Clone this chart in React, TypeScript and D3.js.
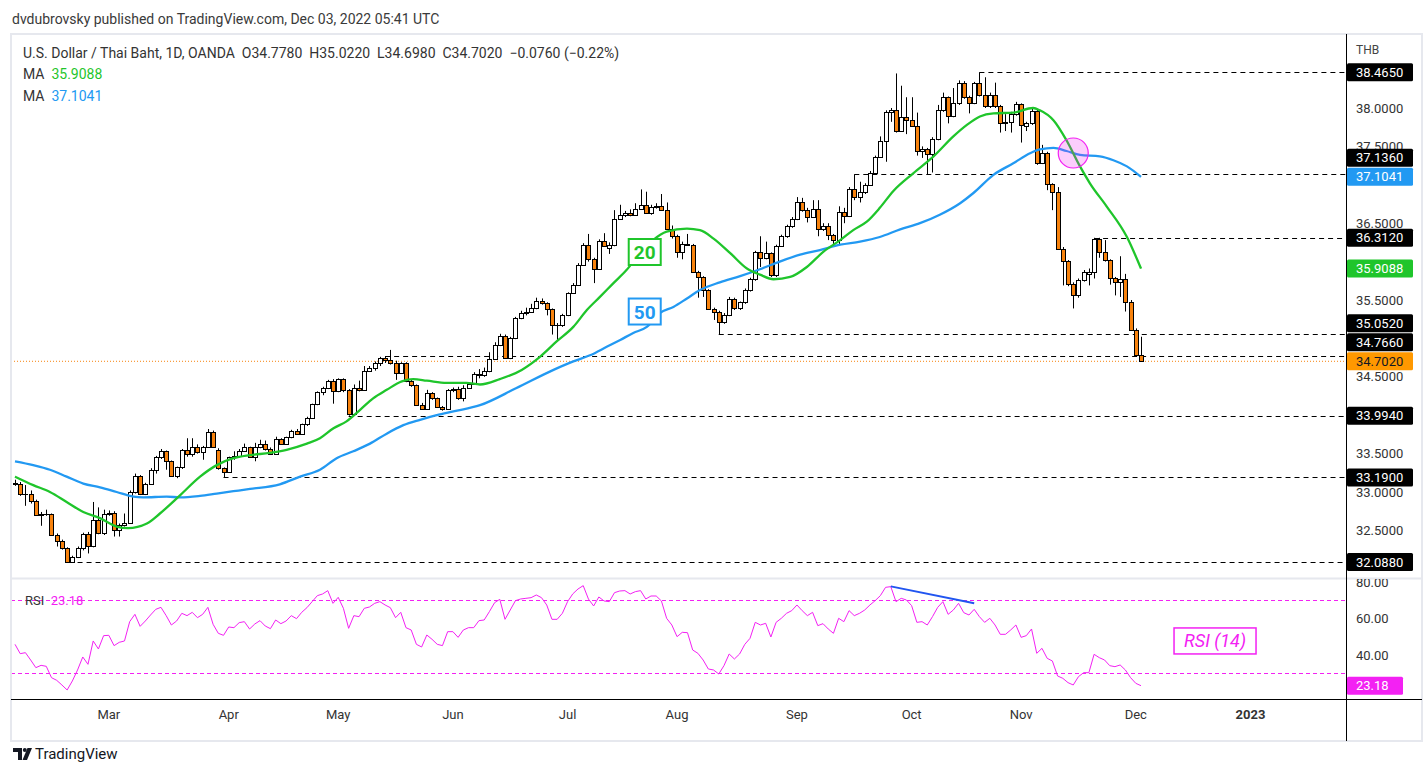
import React from 'react';
import * as d3 from 'd3';

// [open, high, low, close] for each daily bar
type Bar = [number, number, number, number];

const febBars: Bar[] = [
  [33.12, 33.16, 33.08, 33.11], [33.11, 33.13, 32.95, 32.97], [32.97, 33.09, 32.82, 32.97],
  [32.97, 33.02, 32.85, 32.88], [32.88, 32.9, 32.69, 32.7], [32.7, 32.74, 32.56, 32.72],
  [32.72, 32.77, 32.69, 32.71], [32.71, 32.72, 32.43, 32.44], [32.44, 32.46, 32.29, 32.36],
  [32.36, 32.38, 32.25, 32.27], [32.27, 32.28, 32.088, 32.09], [32.09, 32.17, 32.088, 32.16],
  [32.16, 32.29, 32.14, 32.27], [32.27, 32.47, 32.24, 32.45], [32.45, 32.48, 32.2, 32.3],
  [32.3, 32.87, 32.28, 32.64], [32.64, 32.8, 32.45, 32.46], [32.46, 32.77, 32.44, 32.72],
];
const marBars: Bar[] = [
  [32.72, 32.76, 32.69, 32.73], [32.73, 32.75, 32.42, 32.51], [32.51, 32.59, 32.42, 32.57],
  [32.57, 32.72, 32.55, 32.6], [32.6, 33.02, 32.59, 33.0], [33.0, 33.24, 32.98, 33.21],
  [33.21, 33.22, 32.96, 32.98], [32.98, 33.12, 32.96, 33.11], [33.11, 33.31, 33.1, 33.29],
  [33.29, 33.47, 33.24, 33.45], [33.45, 33.56, 33.43, 33.53], [33.53, 33.54, 33.29, 33.4],
  [33.4, 33.41, 33.2, 33.21], [33.21, 33.33, 33.18, 33.32], [33.32, 33.56, 33.3, 33.55],
  [33.55, 33.7, 33.46, 33.5], [33.5, 33.7, 33.46, 33.59], [33.59, 33.62, 33.5, 33.52],
  [33.52, 33.6, 33.42, 33.59], [33.59, 33.82, 33.58, 33.78], [33.78, 33.8, 33.59, 33.59],
  [33.55, 33.57, 33.29, 33.31], [33.31, 33.32, 33.19, 33.26],
];
const aprBars: Bar[] = [
  [33.26, 33.46, 33.25, 33.46], [33.46, 33.53, 33.42, 33.47], [33.47, 33.56, 33.45, 33.54],
  [33.54, 33.63, 33.53, 33.58], [33.58, 33.59, 33.45, 33.45], [33.45, 33.64, 33.4, 33.58],
  [33.58, 33.68, 33.57, 33.63], [33.63, 33.67, 33.54, 33.56], [33.56, 33.58, 33.49, 33.5],
  [33.5, 33.72, 33.49, 33.69], [33.69, 33.7, 33.62, 33.63], [33.63, 33.72, 33.62, 33.71],
  [33.71, 33.81, 33.7, 33.8], [33.8, 33.82, 33.75, 33.76], [33.76, 33.89, 33.75, 33.88],
  [33.88, 33.98, 33.86, 33.97], [33.97, 34.15, 33.96, 34.14], [34.14, 34.31, 34.13, 34.3],
  [34.3, 34.37, 34.26, 34.35], [34.35, 34.46, 34.34, 34.44], [34.44, 34.47, 34.15, 34.31],
];
const mayBars: Bar[] = [
  [34.31, 34.48, 34.3, 34.47], [34.47, 34.48, 34.3, 34.33], [34.33, 34.34, 33.994, 34.01],
  [34.01, 34.4, 34.0, 34.35], [34.35, 34.45, 34.31, 34.33], [34.33, 34.64, 34.32, 34.58],
  [34.58, 34.64, 34.57, 34.62], [34.62, 34.7, 34.58, 34.68], [34.68, 34.76, 34.64, 34.75],
  [34.75, 34.77, 34.68, 34.72], [34.72, 34.85, 34.66, 34.68], [34.68, 34.71, 34.46, 34.55],
  [34.55, 34.69, 34.54, 34.68], [34.68, 34.69, 34.43, 34.45], [34.45, 34.46, 34.37, 34.39],
  [34.39, 34.4, 34.12, 34.13], [34.13, 34.16, 34.07, 34.08], [34.08, 34.33, 34.07, 34.29],
  [34.29, 34.3, 34.2, 34.22], [34.22, 34.23, 34.1, 34.11], [34.11, 34.12, 34.06, 34.08],
  [34.08, 34.34, 34.07, 34.33],
];
const junBars: Bar[] = [
  [34.33, 34.36, 34.3, 34.34], [34.34, 34.37, 34.2, 34.23], [34.23, 34.39, 34.18, 34.36],
  [34.36, 34.43, 34.35, 34.41], [34.41, 34.56, 34.4, 34.54], [34.54, 34.6, 34.48, 34.52],
  [34.52, 34.62, 34.5, 34.58], [34.58, 34.82, 34.56, 34.73], [34.73, 34.95, 34.72, 34.91],
  [34.91, 35.06, 34.9, 35.03], [35.03, 35.05, 34.74, 34.75], [34.75, 35.02, 34.73, 35.0],
  [35.0, 35.28, 34.99, 35.26], [35.26, 35.36, 35.25, 35.33], [35.33, 35.4, 35.3, 35.35],
  [35.35, 35.45, 35.34, 35.4], [35.4, 35.53, 35.38, 35.49], [35.49, 35.52, 35.44, 35.46],
  [35.46, 35.47, 35.3, 35.38], [35.38, 35.39, 35.05, 35.17], [35.17, 35.2, 34.97, 35.17],
  [35.17, 35.32, 35.15, 35.3],
];
const julBars: Bar[] = [
  [35.3, 35.6, 35.29, 35.59], [35.59, 35.72, 35.58, 35.7], [35.7, 35.98, 35.69, 35.96],
  [35.96, 36.24, 35.95, 36.22], [36.22, 36.36, 36.0, 36.03], [36.03, 36.05, 35.72, 35.91],
  [35.91, 36.29, 35.9, 36.27], [36.27, 36.37, 36.19, 36.2], [36.18, 36.25, 36.1, 36.21],
  [36.21, 36.67, 36.2, 36.56], [36.56, 36.74, 36.55, 36.61], [36.61, 36.66, 36.58, 36.63],
  [36.63, 36.68, 36.59, 36.61], [36.61, 36.76, 36.6, 36.69], [36.69, 36.94, 36.68, 36.74],
  [36.74, 36.91, 36.62, 36.63], [36.63, 36.74, 36.61, 36.71], [36.71, 36.76, 36.69, 36.72],
  [36.72, 36.88, 36.66, 36.67], [36.67, 36.77, 36.41, 36.42], [36.42, 36.47, 36.3, 36.33],
];
const augBars: Bar[] = [
  [36.33, 36.35, 36.05, 36.12], [36.12, 36.26, 36.03, 36.23], [36.23, 36.36, 36.21, 36.22],
  [36.22, 36.23, 35.86, 35.87], [35.87, 35.88, 35.53, 35.8], [35.8, 35.81, 35.54, 35.63],
  [35.63, 35.64, 35.37, 35.38], [35.38, 35.4, 35.24, 35.35], [35.35, 35.36, 35.052, 35.21],
  [35.21, 35.33, 35.19, 35.31], [35.31, 35.54, 35.29, 35.51], [35.51, 35.53, 35.37, 35.39],
  [35.39, 35.48, 35.37, 35.47], [35.47, 35.65, 35.45, 35.63], [35.63, 35.79, 35.61, 35.77],
  [35.77, 36.14, 35.75, 36.12], [36.12, 36.33, 35.93, 36.05], [36.05, 36.26, 36.03, 36.11],
  [36.11, 36.12, 35.8, 35.82], [35.82, 36.22, 35.8, 36.2], [36.2, 36.35, 36.19, 36.33],
  [36.33, 36.48, 36.31, 36.46], [36.46, 36.58, 36.44, 36.56],
];
const sepBars: Bar[] = [
  [36.56, 36.84, 36.54, 36.77], [36.77, 36.83, 36.65, 36.67], [36.67, 36.7, 36.51, 36.58],
  [36.58, 36.8, 36.57, 36.69], [36.69, 36.8, 36.33, 36.42], [36.42, 36.5, 36.4, 36.47],
  [36.47, 36.5, 36.28, 36.34], [36.34, 36.36, 36.2, 36.28], [36.28, 36.72, 36.22, 36.65],
  [36.65, 36.7, 36.5, 36.59], [36.59, 36.97, 36.58, 36.94], [36.94, 37.136, 36.8, 36.84],
  [36.84, 37.04, 36.77, 36.91], [36.91, 37.02, 36.88, 37.0], [37.0, 37.18, 36.99, 37.16],
  [37.16, 37.38, 37.15, 37.36], [37.36, 37.63, 37.35, 37.57], [37.57, 37.97, 37.3, 37.95],
  [37.95, 38.0, 37.82, 37.97], [37.97, 38.45, 37.68, 37.7], [37.7, 38.29, 37.69, 37.88],
  [37.88, 38.14, 37.66, 37.85],
];
const octBars: Bar[] = [
  [37.85, 38.14, 37.76, 37.77], [37.77, 37.94, 37.38, 37.44], [37.44, 37.5, 37.35, 37.46],
  [37.46, 37.48, 37.13, 37.4], [37.4, 37.62, 37.16, 37.6], [37.6, 38.04, 37.58, 37.97],
  [37.97, 38.2, 37.95, 38.14], [38.14, 38.15, 37.8, 37.9], [37.9, 38.26, 37.88, 38.06],
  [38.06, 38.36, 38.04, 38.33], [38.33, 38.35, 38.12, 38.14], [38.14, 38.16, 37.93, 38.07],
  [38.07, 38.34, 38.05, 38.32], [38.32, 38.465, 38.15, 38.17], [38.17, 38.4, 38.0, 38.03],
  [38.03, 38.2, 38.0, 38.17], [38.17, 38.33, 38.0, 38.02], [38.02, 38.04, 37.68, 37.8],
  [37.8, 37.92, 37.7, 37.82], [37.82, 37.95, 37.68, 37.92], [37.92, 38.08, 37.9, 38.05],
];
const novBars: Bar[] = [
  [38.05, 38.06, 37.55, 37.78], [37.76, 37.82, 37.7, 37.8], [37.8, 38.0, 37.78, 37.96],
  [37.96, 37.99, 37.26, 37.29], [37.29, 37.52, 37.27, 37.41], [37.41, 37.43, 36.93, 37.01],
  [37.01, 37.02, 36.67, 36.9], [36.9, 36.97, 36.16, 36.17], [36.17, 36.19, 35.69, 36.01],
  [36.01, 36.02, 35.68, 35.71], [35.71, 35.73, 35.39, 35.56], [35.56, 35.78, 35.53, 35.76],
  [35.76, 35.89, 35.74, 35.87], [35.84, 35.91, 35.69, 35.87], [35.87, 36.31, 35.78, 36.29],
  [36.29, 36.31, 36.05, 36.13], [36.13, 36.28, 36.0, 36.02], [36.02, 36.03, 35.7, 35.78],
  [35.78, 35.8, 35.56, 35.73], [35.73, 36.07, 35.54, 35.77], [35.77, 35.84, 35.35, 35.48],
  [35.48, 35.5, 35.1, 35.11],
];
const decBars: Bar[] = [
  [35.11, 35.13, 34.77, 34.78], [34.778, 35.022, 34.698, 34.702],
];

// moving averages read at sample bars: [bar index, value]
const ma20Points: [number, number][] = [
  [0, 33.2], [3.5, 33.09], [6.7, 33.0], [9.9, 32.87], [13.1, 32.74], [16.3, 32.66], [19.5, 32.55],
  [21.7, 32.53], [25.3, 32.59], [27.8, 32.72], [31.7, 32.96], [35.5, 33.2], [38.7, 33.35],
  [41.9, 33.44], [45.1, 33.48], [48.9, 33.51], [52.1, 33.55], [56, 33.63], [58.5, 33.7],
  [61.1, 33.83], [63.6, 33.92], [66.2, 34.07], [68.7, 34.22], [71.3, 34.33], [74.2, 34.44],
  [76.4, 34.47], [79, 34.45], [82.8, 34.42], [86.6, 34.42], [89.2, 34.4], [93, 34.47],
  [97.2, 34.59], [100.7, 34.76], [103.9, 34.96], [107.1, 35.15], [109.7, 35.37], [112.2, 35.54],
  [114.8, 35.72], [117.3, 35.89], [119.9, 36.11], [122.4, 36.28], [125, 36.39], [128.9, 36.43],
  [131.4, 36.41], [134, 36.3], [137.2, 36.11], [140.4, 35.91], [142.9, 35.83], [145.5, 35.77],
  [148.7, 35.8], [151.9, 35.93], [155.1, 36.13], [158.3, 36.28], [160.8, 36.41], [163.4, 36.52],
  [165.9, 36.7], [168.5, 36.92], [172.3, 37.15], [176.2, 37.37], [180, 37.63], [182.6, 37.78],
  [185.1, 37.89], [187.7, 37.93], [191.5, 37.94], [195.3, 38.0], [196.6, 37.97], [199.2, 37.84],
  [201.7, 37.58], [204.3, 37.24], [206.2, 37.02], [209.4, 36.72], [213.3, 36.32], [216, 35.9088],
];
const ma50Points: [number, number][] = [
  [0, 33.4], [3.5, 33.35], [6.7, 33.29], [9.9, 33.2], [13.1, 33.11], [16.3, 33.06], [19.5, 33.0],
  [22.7, 32.94], [24.6, 32.93], [29.1, 32.94], [31.7, 32.93], [35.5, 32.95], [38.7, 32.98],
  [41.9, 33.01], [45.1, 33.04], [50.8, 33.1], [54.7, 33.2], [58.5, 33.29], [61.7, 33.44],
  [64.9, 33.53], [68.1, 33.63], [71.3, 33.76], [74.5, 33.87], [77.7, 33.94], [80.9, 34.0],
  [84.1, 34.05], [89.2, 34.13], [96.1, 34.35], [103.3, 34.59], [107.1, 34.7], [110.3, 34.78],
  [113.5, 34.89], [116.1, 34.98], [118.6, 35.07], [121.2, 35.15], [123.7, 35.33], [126.3, 35.41],
  [128.9, 35.52], [131.4, 35.63], [135.2, 35.73], [139.1, 35.81], [142.9, 35.9], [146.7, 36.0],
  [150.6, 36.09], [154.4, 36.15], [158.3, 36.22], [162.1, 36.26], [165.9, 36.32], [169.8, 36.42],
  [173.6, 36.5], [177.4, 36.61], [181.3, 36.76], [183.8, 36.89], [187.7, 37.13], [191.5, 37.28],
  [194.7, 37.41], [196.6, 37.46], [199.2, 37.48], [201.7, 37.44], [204.3, 37.39], [208.1, 37.37],
  [210.7, 37.32], [213.3, 37.24], [216, 37.1041],
];

// RSI(14), one value per bar
const rsiFebJul = [
  45.85, 40.73, 41.28, 37.27, 33.06, 34.34, 33.8, 27.59, 26.12, 23.57,
  20.83, 25.76, 31.79, 38.91, 34.89, 47.68, 43.29, 50.6, 50.78, 45.12,
  46.95, 47.68, 58.27, 62.29, 55.71, 58.63, 61.92, 65.03, 66.12, 61.56,
  56.44, 58.63, 62.84, 61.56, 63.38, 60.46, 62.29, 66.12, 56.81, 51.88,
  50.78, 55.35, 54.98, 57.72, 58.27, 54.25, 56.99, 58.82, 55.89, 54.43,
  59.18, 57.17, 58.63, 61.56, 59.91, 63.38, 65.94, 69.23, 72.52, 73.43,
  75.26, 68.32, 71.6, 65.58, 54.62, 61.56, 61.01, 65.58, 66.31, 68.32,
  69.23, 67.4, 65.94, 60.46, 63.38, 54.98, 53.7, 45.85, 44.39, 50.96,
  48.59, 45.85, 45.12, 52.79, 52.79, 49.68, 53.7, 54.98, 54.98, 58.82,
  59.18, 63.75, 68.68, 70.51, 59.55, 64.66, 69.78, 70.69, 71.05, 71.42,
  72.88, 71.42, 67.4, 59.55, 59.55, 62.84, 69.23, 73.5, 76.17,
];
const rsiJulDec = [
  78.0, 70.69, 66.85, 71.79, 69.6, 69.23, 74.16, 75.07, 75.26, 73.43,
  74.71, 75.26, 70.69, 72.33, 72.33, 69.6, 60.1, 56.44, 50.05, 52.42,
  52.24, 42.74, 40.92, 37.27, 32.33, 31.79, 29.59, 34.16, 40.55, 37.81,
  40.55, 45.85, 49.14, 57.9, 56.44, 57.36, 49.87, 57.9, 60.1, 62.84,
  64.3, 67.4, 64.3, 61.56, 63.38, 56.08, 57.17, 54.25, 51.88, 60.1,
  58.27, 64.3, 61.56, 62.84, 64.66, 67.4, 69.78, 72.52, 77.08, 77.45,
  69.23, 71.05, 70.14, 67.04, 57.9, 58.27, 56.44, 61.01, 66.12, 69.23,
  62.29, 64.66, 68.32, 63.2, 61.92, 65.03, 61.01, 57.9, 60.1, 56.44,
  51.33, 51.33, 53.7, 56.44, 49.68, 50.6, 54.25, 40.92, 43.66, 38.18,
  36.72, 28.5, 27.22, 24.85, 23.57, 28.13, 30.32, 30.32, 40.37, 38.54,
  37.27, 34.16, 33.61, 34.53, 31.79, 27.59, 24.48, 23.18,
];

const monthLabels = ['Mar', 'Apr', 'May', 'Jun', 'Jul', 'Aug', 'Sep', 'Oct', 'Nov', 'Dec', '2023'];
const monthStartBars = [18, 41, 62, 84, 106, 127, 150, 172, 193, 215, 237];

const priceTicks = [38, 37.5, 37, 36.5, 36, 35.5, 35, 34.5, 34, 33.5, 33, 32.5, 32];
const rsiTicks = [80, 60, 40, 20];
const rsiBands = [70, 30];

// horizontal levels drawn by the author
const levelPrices = [38.465, 37.136, 36.312, 35.052, 34.766, 33.994, 33.19, 32.088];
const levelStartBars = [185, 161, 207, 135, 71, 64, 40, 12];

const lastMa20 = 35.9088;
const lastMa50 = 37.1041;
const lastClose = 34.702;
const lastRsi = 23.18;
const rsiDivergence: [number, number][] = [[168, 77.6], [184, 68.4]];
const crossMark: [number, number] = [203, 37.414];
const ma20Tag: [number, number] = [120.8, 36.125];
const ma50Tag: [number, number] = [120.8, 35.35];
const rsiTag: [number, number] = [230.2, 47.7];

const FONT = "Roboto, 'DejaVu Sans', sans-serif";
const GREEN = '#1fc52b';
const BLUE = '#2299f2';
const ORANGE = '#f7820d';
const MAGENTA = '#f321f3';

export default function App() {
  const bars: Bar[] = [
    ...febBars, ...marBars, ...aprBars, ...mayBars, ...junBars, ...julBars,
    ...augBars, ...sepBars, ...octBars, ...novBars, ...decBars,
  ];
  const rsi = [...rsiFebJul, ...rsiJulDec];

  const frame = { left: 11, top: 34, right: 1422, bottom: 741 };
  const axisX = 1346;
  const paneSplit = 578;
  const paneBottom = 699;

  const x = d3.scaleLinear().domain([0, 237]).range([15, 15 + 237 * 5.213]);
  const y = d3.scaleLinear().domain([33, 38]).range([492, 108]);
  const ry = d3.scaleLinear().domain([40, 80]).range([655, 582]);

  const maLine = d3.line<[number, number]>()
    .x(d => x(d[0]))
    .y(d => y(d[1]))
    .curve(d3.curveMonotoneX);

  const rsiLine = d3.line<number>()
    .x((_, i) => x(i))
    .y(d => ry(d));

  // price labels on the right axis, pushed up when they collide
  const labels = [
    ...levelPrices.map(p => ({ value: p, fill: '#000', color: '#fff' })),
    { value: lastMa20, fill: GREEN, color: '#fff' },
    { value: lastMa50, fill: BLUE, color: '#fff' },
    { value: lastClose, fill: '#ff9800', color: '#131722' },
  ].map(l => ({ ...l, y: y(l.value) }))
    .sort((a, b) => a.y - b.y);
  for (let k = labels.length - 2; k >= 0; k--) {
    if (labels[k].y > labels[k + 1].y - 19) labels[k].y = labels[k + 1].y - 19;
  }
  // axis ticks that sit almost entirely under a label box are not shown
  const visiblePriceTicks = priceTicks.filter(t => labels.every(l => Math.abs(l.y - y(t)) > 10));
  const visibleRsiTicks = rsiTicks.filter(t => Math.abs(ry(t) - ry(lastRsi)) > 10);

  return (
    <svg width={1428} height={776} style={{ position: 'absolute', left: 0, top: 0, background: '#fff' }}
      fontFamily={FONT}>
      <defs>
        <clipPath id="pricePane">
          <rect x={frame.left + 1} y={frame.top} width={axisX - frame.left - 1} height={paneSplit - frame.top} />
        </clipPath>
        <clipPath id="rsiPane">
          <rect x={frame.left + 1} y={paneSplit + 1} width={axisX - frame.left - 1} height={paneBottom - paneSplit - 1} />
        </clipPath>
        <clipPath id="priceAxis">
          <rect x={axisX} y={frame.top} width={frame.right - axisX} height={paneSplit - frame.top} />
        </clipPath>
        <clipPath id="rsiAxis">
          <rect x={axisX} y={paneSplit + 1} width={frame.right - axisX} height={paneBottom - paneSplit - 1} />
        </clipPath>
      </defs>

      <text x={12} y={24} fontSize={14} fill="#3a3a3a">
        dvdubrovsky published on TradingView.com, Dec 03, 2022 05:41 UTC
      </text>

      <rect x={frame.left} y={frame.top} width={frame.right - frame.left} height={frame.bottom - frame.top}
        fill="#fff" stroke="#e6e8ee" strokeWidth={2} />

      {/* price pane */}
      <g clipPath="url(#pricePane)">
        <line x1={frame.left} x2={axisX} y1={y(lastClose)} y2={y(lastClose)}
          stroke={ORANGE} strokeWidth={1} strokeDasharray="1 2" />
        {levelPrices.map((p, k) => (
          <line key={`lv${k}`} x1={x(levelStartBars[k])} x2={axisX} y1={Math.round(y(p)) + 0.5} y2={Math.round(y(p)) + 0.5}
            stroke="#000" strokeWidth={1} strokeDasharray="5 4" />
        ))}
        {bars.map(([o, h, l, c], i) => {
          const cx = Math.round(x(i));
          const top = Math.round(y(Math.max(o, c)));
          const bot = Math.round(y(Math.min(o, c)));
          return (
            <g key={`b${i}`}>
              <line x1={cx + 0.5} x2={cx + 0.5} y1={y(h)} y2={y(l)} stroke="#000" strokeWidth={1} />
              <rect x={cx - 1.5} y={top + 0.5} width={4} height={Math.max(bot - top, 0.01)}
                fill={c >= o ? '#fff' : ORANGE} stroke="#000" strokeWidth={1} />
            </g>
          );
        })}
        <path d={maLine(ma50Points) || ''} fill="none" stroke={BLUE} strokeWidth={2.3} />
        <path d={maLine(ma20Points) || ''} fill="none" stroke={GREEN} strokeWidth={2.3} />
        <circle cx={x(crossMark[0])} cy={y(crossMark[1])} r={15}
          fill={MAGENTA} fillOpacity={0.22} stroke={MAGENTA} strokeWidth={1.2} />
        <g>
          <rect x={x(ma20Tag[0]) - 16} y={y(ma20Tag[1]) - 13} width={32} height={26}
            fill="#fff" stroke={GREEN} strokeWidth={2} />
          <text x={x(ma20Tag[0])} y={y(ma20Tag[1]) + 7} textAnchor="middle" fontSize={19}
            fontWeight="bold" fill={GREEN}>20</text>
          <rect x={x(ma50Tag[0]) - 16} y={y(ma50Tag[1]) - 13} width={32} height={26}
            fill="#fff" stroke={BLUE} strokeWidth={2} />
          <text x={x(ma50Tag[0])} y={y(ma50Tag[1]) + 7} textAnchor="middle" fontSize={19}
            fontWeight="bold" fill={BLUE}>50</text>
        </g>
      </g>

      {/* legend */}
      <text x={23} y={58} fontSize={14} fill="#333" style={{ whiteSpace: 'pre' }}>
        {'U.S. Dollar / Thai Baht, 1D, OANDA  O34.7780  H35.0220  L34.6980  C34.7020  \u22120.0760 (\u22120.22%)'}
      </text>
      <text x={23} y={79} fontSize={14} fill="#333" style={{ whiteSpace: 'pre' }}>
        MA  <tspan fill={GREEN}>{lastMa20.toFixed(4)}</tspan>
      </text>
      <text x={23} y={101} fontSize={14} fill="#333" style={{ whiteSpace: 'pre' }}>
        MA  <tspan fill={BLUE}>{lastMa50.toFixed(4)}</tspan>
      </text>

      {/* RSI pane */}
      <line x1={frame.left} x2={frame.right} y1={paneSplit + 0.5} y2={paneSplit + 0.5} stroke="#e6e8ee" strokeWidth={2} />
      <g clipPath="url(#rsiPane)">
        {rsiBands.map(v => (
          <line key={`band${v}`} x1={frame.left} x2={axisX} y1={Math.round(ry(v)) + 0.5} y2={Math.round(ry(v)) + 0.5}
            stroke={MAGENTA} strokeWidth={1} strokeDasharray="4 3" />
        ))}
        <path d={rsiLine(rsi) || ''} fill="none" stroke={MAGENTA} strokeWidth={1} />
        <path d={d3.line<[number, number]>().x(d => x(d[0])).y(d => ry(d[1]))(rsiDivergence) || ''}
          fill="none" stroke="#2155f0" strokeWidth={2} />
        <text x={25} y={605} fontSize={13} fill="#333" style={{ whiteSpace: 'pre' }}>
          RSI  <tspan fill={MAGENTA}>{lastRsi.toFixed(2)}</tspan>
        </text>
        <rect x={x(rsiTag[0]) - 41} y={ry(rsiTag[1]) - 13} width={82} height={26}
          fill="#fff" stroke={MAGENTA} strokeWidth={1.5} />
        <text x={x(rsiTag[0])} y={ry(rsiTag[1]) + 6} textAnchor="middle" fontSize={18}
          fontStyle="italic" fill={MAGENTA}>RSI (14)</text>
      </g>

      {/* axes frame */}
      <line x1={axisX + 0.5} x2={axisX + 0.5} y1={frame.top} y2={frame.bottom} stroke="#000" strokeWidth={1} />
      <line x1={frame.left} x2={frame.right} y1={paneBottom + 0.5} y2={paneBottom + 0.5} stroke="#000" strokeWidth={1} />

      {/* price axis */}
      <text x={1356} y={54} fontSize={12} fill="#444">THB</text>
      <g clipPath="url(#priceAxis)">
        {visiblePriceTicks.map(t => (
          <text key={`pt${t}`} x={1356} y={y(t) + 4.5} fontSize={13} fill="#333">{t.toFixed(4)}</text>
        ))}
        {labels.map((l, k) => (
          <g key={`lb${k}`}>
            <rect x={axisX + 1} y={l.y - 9} width={66} height={18} rx={1.5} fill={l.fill} />
            <text x={1356} y={l.y + 4.5} fontSize={13} fill={l.color}>{l.value.toFixed(4)}</text>
          </g>
        ))}
      </g>

      {/* RSI axis */}
      <g clipPath="url(#rsiAxis)">
        {visibleRsiTicks.map(t => (
          <text key={`rt${t}`} x={1356} y={ry(t) + 4.5} fontSize={13} fill="#333">{t.toFixed(2)}</text>
        ))}
        <rect x={axisX + 1} y={ry(lastRsi) - 9} width={56} height={18} rx={1.5} fill={MAGENTA} />
        <text x={1356} y={ry(lastRsi) + 4.5} fontSize={13} fill="#fff">{lastRsi.toFixed(2)}</text>
      </g>

      {/* time axis */}
      {monthLabels.map((m, k) => (
        <text key={`m${m}`} x={x(monthStartBars[k])} y={719} textAnchor="middle" fontSize={13}
          fill="#333" fontWeight={m === '2023' ? 'bold' : 'normal'}>{m}</text>
      ))}

      {/* footer logo */}
      <g fill="#131722">
        <path d="M13 748h9v12h-4v-8h-5z" />
        <circle cx={24.8} cy={750} r={2} />
        <path d="M27.5 748h4.5l-5 12h-4.5z" />
        <text x={35} y={759} fontSize={15}>TradingView</text>
      </g>
    </svg>
  );
}
